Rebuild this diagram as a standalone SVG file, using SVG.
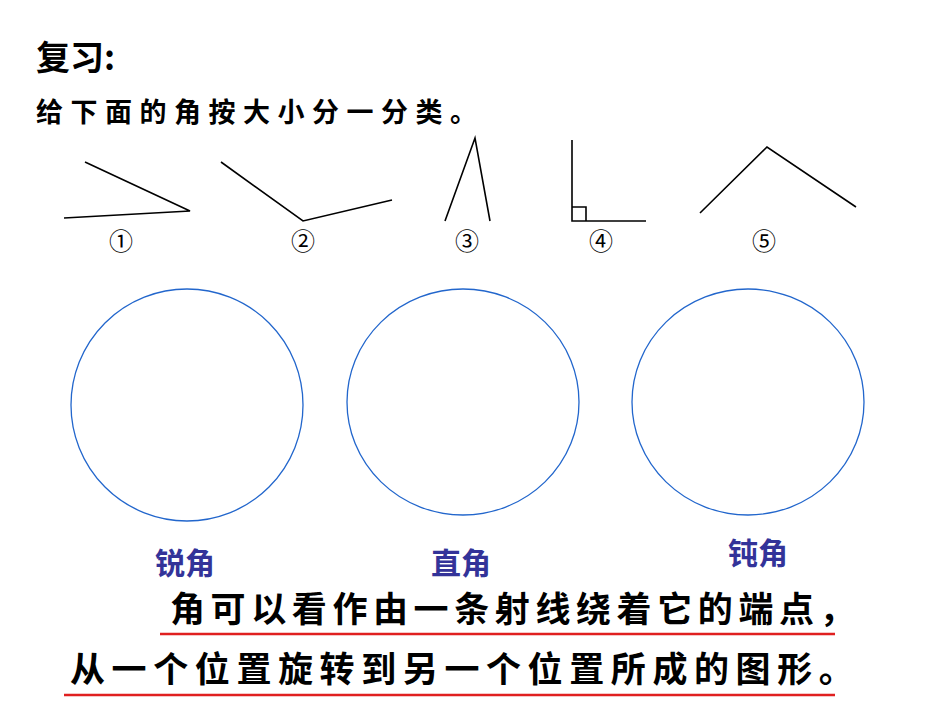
<svg xmlns="http://www.w3.org/2000/svg" width="950" height="713" viewBox="0 0 950 713">
<style>
.t{font-family:"Noto Sans CJK SC","Noto Sans",sans-serif;font-weight:bold;fill:#000}
.a{stroke:#000;stroke-width:1.6;fill:none}
.c{stroke:#2266cc;stroke-width:1.3;fill:none}
.n{font-family:"Noto Sans CJK SC","DejaVu Sans",sans-serif;font-size:24px;text-anchor:middle}
.l{font-family:"Noto Sans CJK SC",sans-serif;font-weight:bold;font-size:30px;fill:#333399;text-anchor:middle}
.r{stroke:#e02020;stroke-width:2.5}
</style>
<rect width="950" height="713" fill="#fff"/>
<text class="t" x="36" y="70" font-size="34">复习:</text>
<text class="t" x="36" y="122" font-size="27" letter-spacing="7.5">给下面的角按大小分一分类。</text>
<g id="angle1"><polyline class="a" points="85,162 190,211 64,218"/><text class="n" x="121" y="250">①</text></g>
<g id="angle2"><polyline class="a" points="221,162 303,221 392,200"/><text class="n" x="303" y="250">②</text></g>
<g id="angle3"><polyline class="a" points="445,221 475,138 490,221"/><text class="n" x="467" y="250">③</text></g>
<g id="angle4"><polyline class="a" points="572,140 572,221 646,221"/><polyline class="a" points="572,207 586,207 586,221"/><text class="n" x="601" y="250">④</text></g>
<g id="angle5"><polyline class="a" points="700,213 767,147 856,207"/><text class="n" x="764" y="250">⑤</text></g>
<g id="acute"><ellipse class="c" cx="187" cy="405" rx="116" ry="116"/><text class="l" x="185" y="574">锐角</text></g>
<g id="right"><ellipse class="c" cx="463" cy="402" rx="116" ry="113"/><text class="l" x="461" y="574">直角</text></g>
<g id="obtuse"><ellipse class="c" cx="748" cy="402" rx="116" ry="113"/><text class="l" x="758" y="564">钝角</text></g>
<text class="t" x="170" y="622" font-size="35" letter-spacing="5.6">角可以看作由一条射线绕着它的端点，</text>
<line class="r" x1="160" y1="634" x2="835" y2="634"/>
<text class="t" x="70" y="682" font-size="35" letter-spacing="6.6">从一个位置旋转到另一个位置所成的图形。</text>
<line class="r" x1="64" y1="695" x2="835" y2="695"/>
</svg>
